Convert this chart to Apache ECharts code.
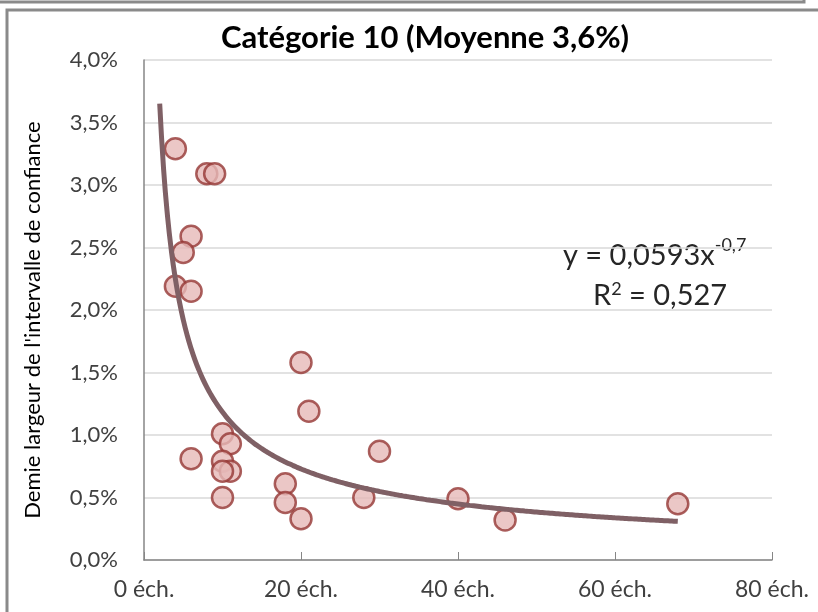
<!DOCTYPE html>
<html>
<head>
<meta charset="utf-8">
<script src="https://cdn.jsdelivr.net/npm/echarts@6/dist/echarts.min.js"></script>
<style>
html, body { margin: 0; padding: 0; background: #fff; }
#chart { width: 818px; height: 612px; }
</style>
</head>
<body>
<div id="chart"></div>
<script>
// nombre d'échantillons / demie largeur (en %)
var echantillons = [4, 8, 9, 6, 5, 4, 6, 20, 21, 10, 11, 6, 10, 11, 10, 10, 18, 18, 20, 30, 28, 40, 46, 68];
var largeurs = [3.29, 3.09, 3.09, 2.59, 2.46, 2.19, 2.15, 1.58, 1.19, 1.01, 0.93, 0.81, 0.79, 0.71, 0.71, 0.50, 0.61, 0.46, 0.33, 0.87, 0.50, 0.49, 0.32, 0.45];

// courbe de tendance (puissance) affichée : y = 0,0593x^-0,7
var trendA = 0.0593;
var trendB = -0.7;
var trendDebut = 2;
var trendFin = 68;

var xTicks = [0, 20, 40, 60, 80];
var yTicks = [0, 0.5, 1, 1.5, 2, 2.5, 3, 3.5, 4];

var points = [];
for (var i = 0; i < echantillons.length; i++) {
	points.push([echantillons[i], largeurs[i]]);
}

var tendance = [];
for (var x = trendDebut; x <= trendFin; x += 0.5) {
	tendance.push([x, 100 * trendA * Math.pow(x, trendB)]);
}

var myChart = echarts.init(document.getElementById('chart'));

var police = 'Lato, "Noto Sans", sans-serif';

option = {
	animation: false,
	backgroundColor: '#fff',
	title: {
		text: 'Catégorie 10 (Moyenne 3,6%)',
		left: 216,
		top: 17,
		textStyle: {
			fontFamily: police,
			fontWeight: 'bold',
			fontSize: 31,
			color: '#000'
		}
	},
	grid: {
		left: 144,
		right: 46,
		top: 60,
		bottom: 52
	},
	xAxis: {
		type: 'value',
		min: xTicks[0],
		max: xTicks[xTicks.length - 1],
		interval: 20,
		axisLine: { show: true, lineStyle: { color: '#868686', width: 1.5 } },
		axisTick: { show: true, inside: true, length: 8, lineStyle: { color: '#868686' } },
		splitLine: { show: false },
		axisLabel: {
			margin: 18,
			fontFamily: police,
			fontSize: 23,
			color: '#404040',
			formatter: function (v) { return v + ' éch.'; }
		}
	},
	yAxis: {
		type: 'value',
		min: yTicks[0],
		max: yTicks[yTicks.length - 1],
		interval: 0.5,
		axisLine: { show: true, lineStyle: { color: '#868686', width: 1.5 } },
		axisTick: { show: false },
		splitLine: { show: true, lineStyle: { color: '#d9d9d9', width: 1.5 } },
		axisLabel: {
			margin: 26,
			fontFamily: police,
			fontSize: 22,
			color: '#404040',
			formatter: function (v) { return v.toFixed(1).replace('.', ',') + '%'; }
		}
	},
	series: [
		{
			name: 'Catégorie 10',
			type: 'scatter',
			data: points,
			symbol: 'circle',
			symbolSize: 21,
			z: 2,
			itemStyle: {
				color: '#e6b9b8',
				borderColor: '#953735',
				borderWidth: 2.5
			}
		},
		{
			name: 'Tendance',
			type: 'line',
			data: tendance,
			showSymbol: false,
			smooth: true,
			z: 3,
			lineStyle: { color: '#7f6065', width: 5 }
		}
	],
	graphic: [
		{
			type: 'rect',
			shape: { x: -10, y: -10, width: 814, height: 12 },
			style: { fill: 'none', stroke: '#8a8a8a', lineWidth: 3 }
		},
		{
			type: 'rect',
			shape: { x: 7, y: 10, width: 830, height: 620 },
			style: { fill: 'none', stroke: '#8a8a8a', lineWidth: 3 }
		},
		{
			type: 'text',
			x: 33,
			y: 320,
			rotation: Math.PI / 2,
			style: {
				text: "Demie largeur de l'intervalle de confiance",
				fontFamily: police,
				fontSize: 22,
				fill: '#000',
				align: 'center',
				verticalAlign: 'middle'
			}
		},
		{
			type: 'text',
			left: 563,
			top: 236,
			style: {
				text: '{a|y = 0,0593x}{b|-0,7}',
				rich: {
					a: { fontFamily: police, fontSize: 29, fill: '#262626', verticalAlign: 'bottom' },
					b: { fontFamily: police, fontSize: 18, fill: '#262626', verticalAlign: 'top', padding: [0, 0, 16, 0] }
				}
			}
		},
		{
			type: 'text',
			left: 593,
			top: 280,
			style: {
				text: '{a|R}{b|2}{a| = 0,527}',
				rich: {
					a: { fontFamily: police, fontSize: 29, fill: '#262626' },
					b: { fontFamily: police, fontSize: 18, fill: '#262626', padding: [0, 0, 14, 0] }
				}
			}
		}
	]
};

myChart.setOption(option);
</script>
</body>
</html>
